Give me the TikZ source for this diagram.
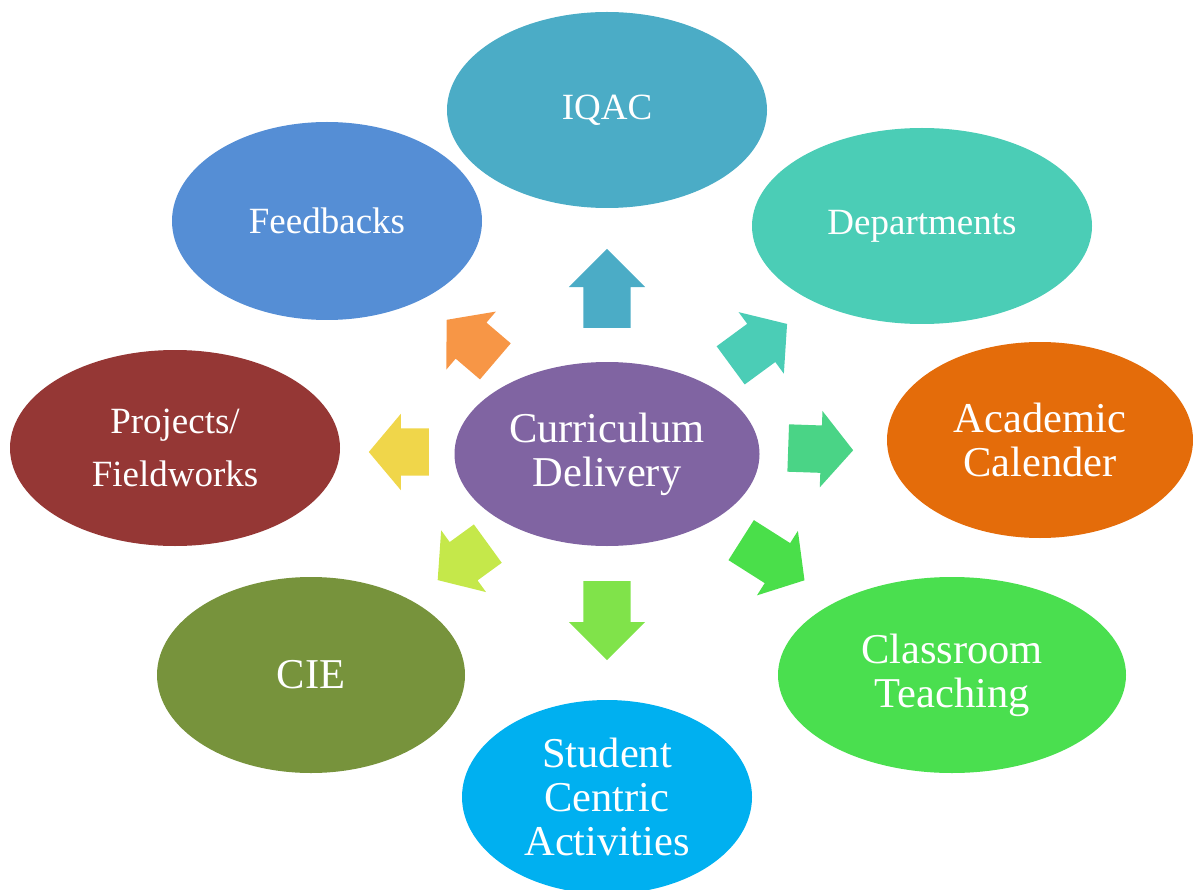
\documentclass[tikz,border=0pt]{standalone}
\usepackage{fontspec}
\setmainfont{Liberation Serif}
\usetikzlibrary{shapes.geometric,shapes.arrows}

\definecolor{cIQAC}{HTML}{4BACC6}
\definecolor{cFeed}{HTML}{558ED5}
\definecolor{cDept}{HTML}{4BCDB6}
\definecolor{cProj}{HTML}{953735}
\definecolor{cCurr}{HTML}{8064A2}
\definecolor{cAcad}{HTML}{E46C0A}
\definecolor{cCIE}{HTML}{77933C}
\definecolor{cClass}{HTML}{4ADF4F}
\definecolor{cStud}{HTML}{00B0F0}
\definecolor{aOrange}{HTML}{F79646}
\definecolor{aYellow}{HTML}{F0D64A}
\definecolor{aMint}{HTML}{4AD486}
\definecolor{aGreen}{HTML}{4ADF4A}
\definecolor{aDown}{HTML}{80E34A}
\definecolor{aLime}{HTML}{C5E84A}

\tikzset{
  bubble/.style={ellipse, inner sep=0pt, text=white, align=center,
    font=\fontsize{37}{53}\selectfont},
  bigtext/.style={font=\fontsize{42.5}{44}\selectfont},
  blockarrow/.style={single arrow, draw=none, inner xsep=0pt, inner ysep=23.5pt,
    single arrow head extend=14.5pt, single arrow tip angle=100, anchor=tail}
}

\begin{document}
\begin{tikzpicture}[x=1pt,y=-1pt]
	\useasboundingbox (0,0) rectangle (1193,890);
	% outer ring
	\node[bubble, fill=cIQAC, minimum width=320, minimum height=196] (iqac) at (607,110) {IQAC};
	\node[bubble, fill=cFeed, minimum width=310, minimum height=198] (feed) at (327,221) {Feedbacks};
	\node[bubble, fill=cDept, minimum width=340, minimum height=196] (dept) at (922,226) {Departments};
	\node[bubble, fill=cProj, minimum width=330, minimum height=196] (proj) at (175,448) {Projects/\\Fieldworks};
	\node[bubble, bigtext, fill=cAcad, minimum width=306, minimum height=196] (acad) at (1040,440) {Academic\\Calender};
	\node[bubble, bigtext, fill=cCIE, minimum width=308, minimum height=196] (cie) at (311,675) {CIE};
	\node[bubble, bigtext, fill=cClass, minimum width=348, minimum height=196] (class) at (952,675) {Classroom\\Teaching};
	\node[bubble, bigtext, fill=cStud, minimum width=290, minimum height=194] (stud) at (607,797) {Student\\Centric\\Activities};
	% centre
	\node[bubble, bigtext, fill=cCurr, minimum width=305, minimum height=184] (curr) at (607,454) {Curriculum\\Delivery};
	% block arrows
	\node[blockarrow, fill=cIQAC, single arrow tip angle=90, minimum height=79, rotate=90] (toiqac) at (607,328) {};
	\node[blockarrow, fill=aDown, single arrow tip angle=90, minimum height=79, rotate=-90] (tostud) at (607,581) {};
	\node[blockarrow, fill=aYellow, minimum height=60, rotate=180] (toproj) at (429,452) {};
	\node[blockarrow, fill=aMint, minimum height=65, rotate=-2] (toacad) at (788,448) {};
	\node[blockarrow, fill=aOrange, minimum height=64, rotate=139.5] (tofeed) at (495.5,361.5) {};
	\node[blockarrow, fill=cDept, minimum height=70, rotate=36.3] (todept) at (730.5,365.5) {};
	\node[blockarrow, fill=aLime, minimum height=62, rotate=216] (tocie) at (488,543.5) {};
	\node[blockarrow, fill=aGreen, minimum height=75, rotate=-32.4] (toclass) at (741,540) {};
\end{tikzpicture}
\end{document}
